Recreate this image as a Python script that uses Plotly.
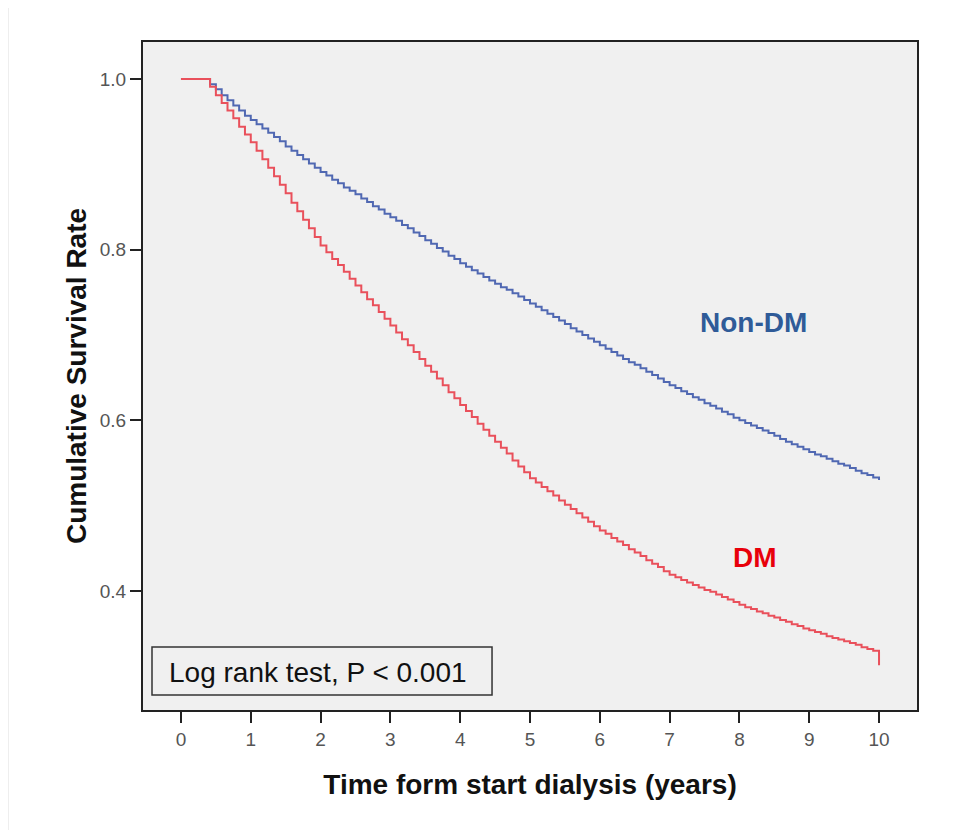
import plotly.graph_objects as go

# Time axis: monthly steps (years)
months = list(range(0, 121))
time_years = [m / 12 for m in months]

# Kaplan-Meier survival estimates (one value per month)
non_dm = [
    1.000, 1.000, 1.000, 1.000, 1.000, 0.994, 0.988, 0.981, 0.975, 0.969, 0.963, 0.957, 0.952,
    0.947, 0.942, 0.937, 0.932, 0.927, 0.921, 0.916, 0.911, 0.906, 0.901, 0.896, 0.891,
    0.887, 0.882, 0.878, 0.873, 0.869, 0.865, 0.860, 0.856, 0.851, 0.847, 0.842, 0.838,
    0.834, 0.829, 0.825, 0.820, 0.816, 0.811, 0.807, 0.802, 0.798, 0.793, 0.789, 0.784,
    0.780, 0.776, 0.772, 0.768, 0.764, 0.760, 0.756, 0.753, 0.749, 0.745, 0.741, 0.737,
    0.733, 0.729, 0.725, 0.721, 0.717, 0.713, 0.708, 0.704, 0.700, 0.696, 0.692, 0.688,
    0.684, 0.680, 0.676, 0.672, 0.668, 0.665, 0.661, 0.657, 0.653, 0.649, 0.645, 0.641,
    0.638, 0.634, 0.631, 0.627, 0.624, 0.620, 0.617, 0.614, 0.610, 0.607, 0.603, 0.600,
    0.597, 0.594, 0.591, 0.588, 0.585, 0.582, 0.578, 0.575, 0.572, 0.569, 0.566, 0.563,
    0.560, 0.558, 0.555, 0.552, 0.549, 0.547, 0.544, 0.541, 0.538, 0.536, 0.533, 0.530,
]
dm = [
    1.000, 1.000, 1.000, 1.000, 1.000, 0.991, 0.981, 0.972, 0.963, 0.954, 0.944, 0.935, 0.926,
    0.916, 0.906, 0.896, 0.886, 0.876, 0.866, 0.855, 0.845, 0.835, 0.825, 0.815, 0.805,
    0.797, 0.789, 0.782, 0.774, 0.766, 0.758, 0.750, 0.742, 0.735, 0.727, 0.719, 0.711,
    0.703, 0.695, 0.688, 0.680, 0.672, 0.664, 0.657, 0.649, 0.641, 0.633, 0.626, 0.618,
    0.611, 0.604, 0.596, 0.589, 0.582, 0.575, 0.568, 0.561, 0.553, 0.546, 0.539, 0.532,
    0.527, 0.522, 0.517, 0.512, 0.506, 0.501, 0.496, 0.491, 0.486, 0.481, 0.476, 0.471,
    0.467, 0.462, 0.458, 0.454, 0.449, 0.445, 0.441, 0.436, 0.432, 0.428, 0.423, 0.419,
    0.416, 0.413, 0.410, 0.407, 0.404, 0.401, 0.399, 0.396, 0.393, 0.390, 0.387, 0.384,
    0.381, 0.379, 0.376, 0.374, 0.371, 0.369, 0.366, 0.364, 0.361, 0.359, 0.356, 0.354,
    0.352, 0.350, 0.347, 0.345, 0.343, 0.341, 0.339, 0.337, 0.334, 0.332, 0.330, 0.328,
]
dm_final_time = 10.0
dm_final_value = 0.313

x_ticks = list(range(0, 11))
y_ticks = [0.4, 0.6, 0.8, 1.0]
y_tick_labels = ["0.4", "0.6", "0.8", "1.0"]

BLUE = "#5068b2"
RED = "#e9505b"
FONT = "Liberation Sans, Arial, sans-serif"

fig = go.Figure()
fig.add_trace(go.Scatter(x=time_years, y=non_dm, mode="lines", line_shape="hv",
                         line=dict(color=BLUE, width=2), name="Non-DM", showlegend=False))
fig.add_trace(go.Scatter(x=time_years + [dm_final_time], y=dm + [dm_final_value], mode="lines",
                         line_shape="hv", line=dict(color=RED, width=2), name="DM", showlegend=False))

# Log rank test box
fig.add_shape(type="rect", xref="x", yref="y", x0=-0.415, x1=4.456, y0=0.2781, y1=0.3344,
              line=dict(color="#333333", width=1.5), fillcolor="rgba(0,0,0,0)")
fig.add_annotation(x=-0.2, y=0.305, xref="x", yref="y", text="Log rank test, P < 0.001",
                   showarrow=False, xanchor="left", yanchor="middle",
                   font=dict(family=FONT, size=28, color="#111111"))

fig.add_annotation(x=8.195, y=0.7152, xref="x", yref="y", text="<b>Non-DM</b>", showarrow=False,
                   font=dict(family=FONT, size=28, color="#2f5b98"))
fig.add_annotation(x=8.223, y=0.4387, xref="x", yref="y", text="<b>DM</b>", showarrow=False,
                   font=dict(family=FONT, size=28, color="#e8000b"))

# faint page border line at left
fig.add_shape(type="line", xref="paper", yref="paper", x0=-0.1744, x1=-0.1744, y0=-0.2, y1=1.06,
              line=dict(color="#dddddd", width=1))

fig.update_layout(
    width=956, height=822,
    margin=dict(l=135, r=47, t=34, b=120),
    paper_bgcolor="white",
    plot_bgcolor="#f0f0f0",
    font=dict(family=FONT, color="#333333"),
)
fig.update_xaxes(
    range=[-0.544, 10.544], tickvals=x_ticks, ticktext=[str(v) for v in x_ticks],
    showgrid=False, zeroline=False, showline=True, linecolor="#222222", linewidth=2, mirror=True,
    ticks="outside", ticklen=11, tickwidth=2, tickcolor="#222222",
    tickfont=dict(family=FONT, size=19, color="#555555"),
    title=dict(text="<b>Time form start dialysis (years)</b>", standoff=26,
               font=dict(family=FONT, size=28, color="#111111")),
)
fig.update_yaxes(
    range=[0.2605, 1.0434], tickvals=y_ticks, ticktext=y_tick_labels,
    showgrid=False, zeroline=False, showline=True, linecolor="#222222", linewidth=2, mirror=True,
    ticks="outside", ticklen=11, tickwidth=2, tickcolor="#222222",
    tickfont=dict(family=FONT, size=19, color="#555555"),
    title=dict(text="<b>Cumulative Survival Rate</b>", standoff=5,
               font=dict(family=FONT, size=28, color="#111111")),
)

fig.write_html("out.html")
